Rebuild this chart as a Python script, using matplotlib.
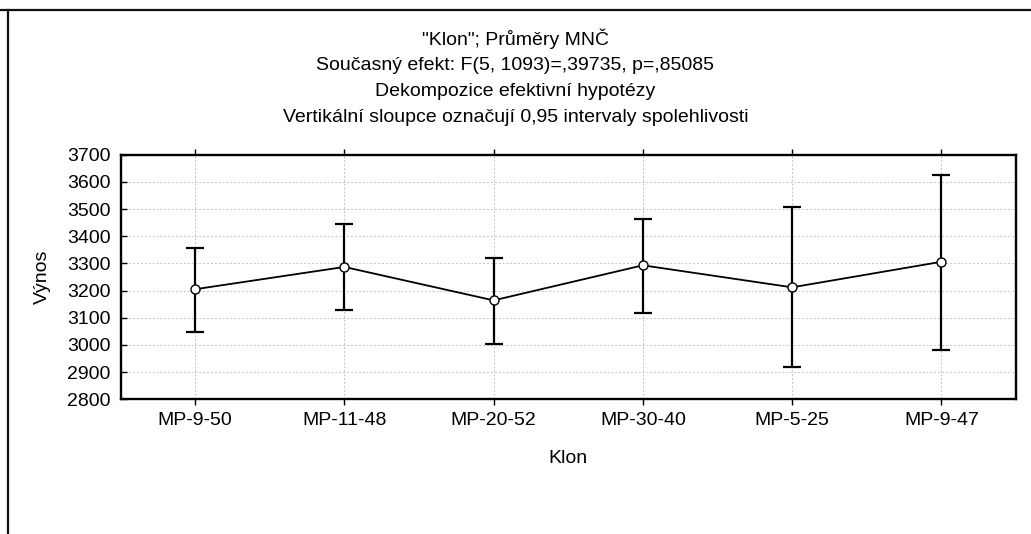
import numpy as np
import matplotlib
matplotlib.use("Agg")
import matplotlib.pyplot as plt
from matplotlib.lines import Line2D

# data
klony = ["MP-9-50", "MP-11-48", "MP-20-52", "MP-30-40", "MP-5-25", "MP-9-47"]
prumery = [3205, 3287, 3164, 3293, 3212, 3306]
horni = [3358, 3446, 3321, 3463, 3508, 3626]
dolni = [3049, 3129, 3005, 3118, 2919, 2981]

titulky = [
    '"Klon"; Průměry MNČ',
    "Současný efekt: F(5, 1093)=,39735, p=,85085",
    "Dekompozice efektivní hypotézy",
    "Vertikální sloupce označují 0,95 intervaly spolehlivosti",
]

plt.rcParams["font.family"] = ["Liberation Sans", "DejaVu Sans"]
fs = 14

W, H = 1031, 534
fig = plt.figure(figsize=(W / 100, H / 100), dpi=100)
ax = fig.add_axes([120.5 / W, 1 - 399.3 / H, (1016 - 120.5) / W, (399.3 - 154.7) / H])

x = np.arange(len(klony))
m = np.array(prumery)
err = [m - np.array(dolni), np.array(horni) - m]
ax.errorbar(x, m, yerr=err, fmt="none", ecolor="black", elinewidth=1.6,
            capsize=6.5, capthick=1.6, zorder=3)
ax.plot(x, m, "-o", color="black", lw=1.3, markersize=6.5,
        markerfacecolor="white", markeredgecolor="black", markeredgewidth=1.0, zorder=4)

ax.set_xlim(-0.5, len(klony) - 0.5)
ax.set_ylim(2800, 3700)
ax.set_yticks(np.arange(2800, 3701, 100))
ax.set_xticks(x)
ax.set_xticklabels(klony, fontsize=fs)
ax.tick_params(axis="y", labelsize=fs, direction="in", length=4, width=1, pad=7)
ax.tick_params(axis="x", direction="out", length=4, width=1, pad=5)
ax.tick_params(top=True, which="both")
ax.grid(True, color="#c4c4c4", linestyle=(0, (2, 2)), linewidth=0.7)
ax.set_axisbelow(True)
for s in ax.spines.values():
    s.set_linewidth(1.7)

ax.set_xlabel("Klon", fontsize=fs, labelpad=15)
ax.set_ylabel("Výnos", fontsize=fs, labelpad=12)

for i, t in enumerate(titulky):
    fig.text(0.5, 1 - (39 + 26.2 * i) / H, t, ha="center", va="center", fontsize=fs)

# outer frame lines (top and left)
fig.add_artist(Line2D([0, 1], [1 - 9.5 / H, 1 - 9.5 / H], color="#111111", lw=1.6,
                      transform=fig.transFigure))
fig.add_artist(Line2D([7.5 / W, 7.5 / W], [0, 1 - 9.5 / H], color="#111111", lw=1.6,
                      transform=fig.transFigure))

fig.savefig("out.png", dpi=100)
